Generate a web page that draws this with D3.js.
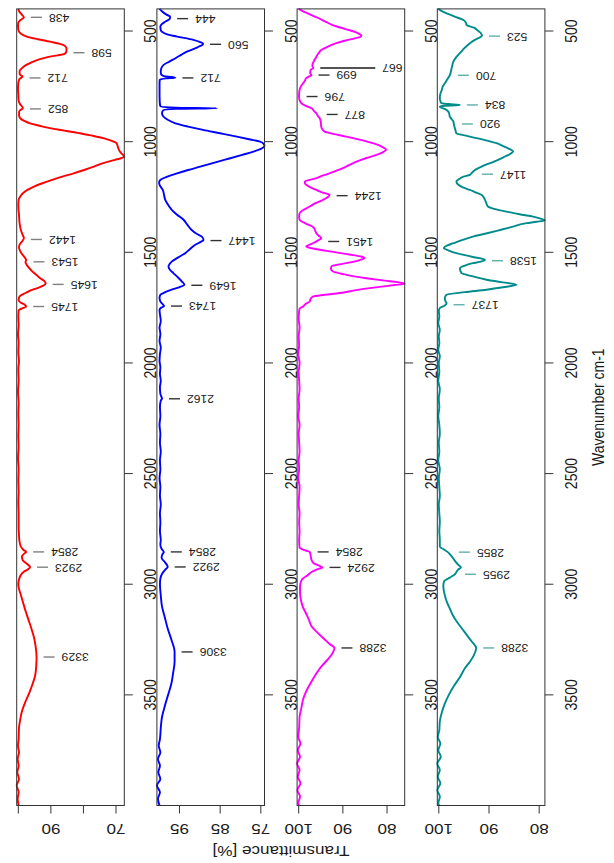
<!DOCTYPE html>
<html>
<head>
<meta charset="utf-8">
<script src="https://cdn.jsdelivr.net/npm/d3@7"></script>
<style>
  body { margin: 0; background: #fff; }
  text { font-family: "Liberation Sans", Arial, sans-serif; fill: #1a1a1a; }
</style>
</head>
<body>
<svg id="chart" width="614" height="863"></svg>
<script>
// FTIR spectra, four samples: [wavenumber cm-1, transmittance %]
const redSpectrum = [
  [400,100.0],[412,99.7],[425,99.0],[438,98.3],[450,99.3],[462,100.0],[480,100.1],[500,99.9],[512,99.2],[525,97.4],
  [537,94.0],[548,90.3],[558,87.2],[568,85.6],[580,85.2],[595,85.3],[603,85.8],[610,88.0],[618,91.0],[628,93.6],
  [640,95.8],[652,97.4],[664,98.6],[680,99.6],[695,99.6],[706,98.7],[716,99.6],[735,100.0],[760,100.1],[790,100.0],
  [815,99.9],[830,99.5],[848,98.6],[862,99.7],[880,99.8],[895,99.4],[906,98.2],[917,96.4],[928,93.5],[939,90.3],
  [950,85.8],[962,81.1],[973,77.3],[984,73.9],[995,71.5],[1007,69.8],[1020,69.5],[1037,69.1],[1052,68.4],[1063,67.6],
  [1068,67.45],[1075,68.5],[1082,70.3],[1097,73.9],[1113,76.8],[1128,79.8],[1143,83.0],[1158,86.5],[1173,89.6],[1188,92.6],
  [1203,95.2],[1218,97.2],[1233,98.6],[1250,99.5],[1263,99.9],[1290,100.0],[1330,99.8],[1370,99.6],[1400,99.2],[1420,98.7],
  [1436,98.3],[1450,98.8],[1465,99.6],[1478,99.8],[1492,99.5],[1505,99.0],[1520,98.2],[1535,97.6],[1545,97.8],[1555,97.5],
  [1570,96.7],[1585,95.8],[1600,94.6],[1617,93.3],[1630,92.0],[1641,91.6],[1652,92.5],[1662,94.2],[1672,96.2],[1684,97.8],
  [1695,99.3],[1705,99.8],[1718,99.9],[1728,99.2],[1737,98.0],[1745,97.6],[1752,98.6],[1762,99.9],[1790,100.0],[1830,99.9],
  [1870,100.1],[1910,99.9],[1950,100.0],[1990,99.8],[2030,100.0],[2080,99.9],[2130,100.1],[2180,99.9],[2230,100.0],[2280,99.9],
  [2330,100.0],[2380,99.9],[2430,100.1],[2480,99.9],[2530,100.0],[2580,99.9],[2630,100.0],[2680,99.9],[2730,99.9],[2780,99.8],
  [2810,99.6],[2830,99.2],[2845,98.4],[2854,97.6],[2862,98.2],[2875,98.9],[2890,98.7],[2905,97.6],[2915,96.8],[2923,96.4],
  [2932,97.0],[2945,98.4],[2960,99.3],[2980,99.8],[3000,100.0],[3020,99.8],[3050,99.2],[3080,98.6],[3120,97.8],[3160,96.9],
  [3200,96.0],[3240,95.2],[3280,94.7],[3329,94.4],[3370,94.5],[3410,94.8],[3450,95.6],[3490,96.6],[3530,97.8],[3570,98.8],
  [3610,99.4],[3650,99.8],[3700,99.9],[3730,100.1],[3760,99.8],[3790,100.2],[3820,99.9],[3850,100.3],[3880,99.8],[3910,100.5],
  [3940,99.9],[3970,100.2],[4000,99.9]
];

const blueSpectrum = [
  [400,99.9],[412,99.25],[425,98.3],[435,97.3],[445,97.4],[458,98.5],[470,99.4],[480,99.7],[495,99.6],[503,99.3],
  [515,98.0],[525,95.6],[540,91.6],[550,89.9],[557,89.2],[563,89.4],[571,90.3],[582,91.6],[593,93.2],[608,94.6],
  [623,96.0],[638,97.5],[653,98.9],[670,99.5],[684,99.6],[696,99.5],[704,98.8],[708,96.8],[711,96.0],[714,98.3],
  [720,99.85],[740,99.9],[780,99.9],[820,99.85],[840,99.7],[846,96.0],[849,85.8],[852,96.0],[858,99.0],[872,99.3],
  [885,99.0],[900,98.0],[917,96.0],[932,92.9],[947,89.2],[962,85.0],[977,80.9],[990,77.6],[1000,75.2],[1010,74.3],
  [1020,74.1],[1030,74.7],[1045,76.8],[1060,79.6],[1075,82.5],[1090,85.5],[1113,89.9],[1128,92.9],[1143,95.6],[1158,98.0],
  [1173,99.7],[1185,100.0],[1195,99.9],[1218,99.1],[1240,98.8],[1263,98.5],[1285,97.8],[1308,96.9],[1330,95.6],[1353,94.0],
  [1375,93.1],[1399,92.0],[1415,90.9],[1429,89.5],[1444,89.1],[1455,90.0],[1466,91.1],[1485,92.4],[1504,93.6],[1523,95.3],
  [1542,96.9],[1555,97.5],[1564,97.7],[1580,97.3],[1594,96.5],[1615,95.3],[1632,94.4],[1647,93.8],[1658,95.1],[1669,96.9],
  [1680,98.5],[1692,99.7],[1705,99.9],[1722,99.7],[1737,99.0],[1743,98.8],[1750,99.5],[1760,99.9],[1780,99.8],[1810,99.6],
  [1840,99.9],[1870,99.7],[1900,99.9],[1930,99.6],[1960,99.8],[1990,99.9],[2020,99.7],[2050,99.8],[2080,99.6],[2110,99.8],
  [2140,99.7],[2155,99.4],[2162,99.3],[2170,99.6],[2200,99.8],[2240,99.7],[2280,99.9],[2320,99.7],[2360,99.8],[2400,99.6],
  [2440,99.8],[2480,99.7],[2520,99.9],[2560,99.7],[2600,99.8],[2640,99.6],[2680,99.8],[2720,99.7],[2760,99.8],[2800,99.6],
  [2820,99.7],[2840,99.4],[2854,98.85],[2865,99.2],[2880,99.4],[2900,98.6],[2912,98.1],[2922,97.9],[2932,98.4],[2950,99.2],
  [2975,99.7],[3000,99.8],[3050,99.6],[3100,99.3],[3150,98.6],[3200,97.9],[3250,97.0],[3306,96.2],[3350,96.2],[3400,96.55],
  [3450,97.0],[3500,97.8],[3550,98.6],[3600,99.3],[3650,99.6],[3700,99.8],[3730,100.1],[3760,99.7],[3790,100.3],[3820,99.8],
  [3850,100.2],[3880,99.7],[3910,100.55],[3940,99.8],[3970,100.3],[4000,99.9]
];

const magentaSpectrum = [
  [400,100.0],[410,99.1],[420,98.0],[440,95.7],[460,93.7],[473,92.3],[490,89.6],[505,87.1],[512,86.4],[520,85.8],
  [527,86.1],[533,87.3],[544,89.6],[555,91.5],[570,93.4],[586,94.9],[600,95.5],[616,96.0],[630,96.4],[646,96.8],
  [657,96.9],[667,96.7],[676,97.3],[690,97.4],[699,97.1],[706,97.7],[713,98.3],[725,98.6],[736,99.0],[750,99.5],
  [766,99.8],[782,99.9],[797,99.93],[812,99.8],[826,99.4],[838,98.4],[849,97.1],[860,96.6],[872,96.0],[883,95.7],
  [894,95.25],[910,95.0],[932,94.9],[945,94.6],[955,94.1],[966,91.9],[977,89.2],[992,86.0],[1007,83.2],[1022,81.2],
  [1037,80.2],[1048,81.0],[1060,82.4],[1075,84.8],[1090,86.9],[1105,88.5],[1120,90.0],[1132,91.6],[1143,93.0],[1155,94.8],
  [1165,96.0],[1173,97.5],[1180,98.6],[1188,98.6],[1195,98.3],[1207,97.3],[1218,96.0],[1230,94.6],[1240,93.0],[1250,93.4],
  [1263,94.5],[1278,96.2],[1293,97.5],[1308,98.9],[1323,99.8],[1338,99.9],[1353,99.8],[1370,98.4],[1384,96.8],[1400,96.3],
  [1414,96.0],[1425,95.5],[1436,94.9],[1447,95.7],[1459,96.8],[1467,97.7],[1474,98.3],[1485,96.2],[1496,93.0],[1510,88.5],
  [1520,85.7],[1526,85.1],[1535,86.2],[1549,89.2],[1556,91.2],[1564,92.6],[1575,92.7],[1587,92.2],[1600,89.6],[1610,87.1],
  [1617,84.7],[1628,80.5],[1635,77.6],[1639,76.3],[1642,76.0],[1648,78.3],[1655,81.2],[1662,83.9],[1672,87.3],[1684,90.7],
  [1692,94.1],[1700,96.8],[1710,97.3],[1722,97.5],[1733,98.4],[1745,99.0],[1755,99.8],[1765,99.9],[1800,100.0],[1840,99.8],
  [1880,100.0],[1920,99.9],[1960,100.1],[2000,99.8],[2040,100.0],[2080,99.9],[2120,99.8],[2160,100.0],[2200,99.9],[2240,100.1],
  [2280,99.8],[2320,100.0],[2360,99.9],[2400,99.8],[2440,100.0],[2480,99.9],[2520,100.1],[2560,99.8],[2600,99.9],[2640,100.0],
  [2680,99.8],[2720,99.9],[2760,99.8],[2800,99.9],[2835,99.8],[2845,98.9],[2854,97.5],[2870,97.3],[2890,97.1],[2905,96.6],
  [2915,95.5],[2924,94.6],[2932,95.7],[2945,97.1],[2960,98.0],[2975,99.1],[2990,99.5],[3010,99.7],[3040,99.7],[3070,99.5],
  [3100,99.1],[3130,98.4],[3160,97.7],[3190,97.1],[3220,95.7],[3250,94.1],[3270,93.0],[3288,91.9],[3310,92.3],[3340,93.4],
  [3370,94.8],[3400,95.9],[3440,97.1],[3480,98.2],[3520,99.0],[3560,99.4],[3600,99.8],[3650,99.9],[3690,100.1],[3720,99.6],
  [3750,100.2],[3780,99.7],[3810,100.36],[3840,99.8],[3870,100.2],[3900,99.6],[3930,100.3],[3960,99.7],[3990,100.1],[4000,99.9]
];

const tealSpectrum = [
  [400,100.1],[410,99.4],[420,98.45],[430,97.3],[440,96.2],[450,95.1],[462,94.6],[473,94.46],[485,93.0],[497,92.3],
  [510,91.6],[520,91.4],[527,91.7],[540,92.8],[555,93.8],[575,94.8],[600,95.8],[620,96.6],[638,97.1],[655,97.3],
  [668,97.45],[684,97.6],[699,97.8],[715,98.2],[736,98.8],[750,99.2],[766,99.4],[785,99.7],[804,99.8],[815,99.7],
  [826,99.5],[830,98.0],[834,95.8],[838,98.8],[842,99.8],[852,98.8],[864,98.1],[876,97.9],[887,97.8],[900,97.4],
  [909,97.1],[920,97.0],[939,96.8],[955,96.6],[962,96.5],[973,94.6],[984,92.5],[995,90.4],[1007,88.5],[1020,87.2],
  [1030,86.2],[1045,85.2],[1056,85.8],[1067,86.8],[1082,88.2],[1097,89.8],[1112,91.4],[1128,92.8],[1143,93.5],[1150,93.8],
  [1158,95.1],[1170,96.0],[1180,96.5],[1195,96.1],[1207,95.2],[1218,93.8],[1230,92.6],[1240,91.5],[1263,90.8],[1280,90.5],
  [1293,90.2],[1305,88.8],[1316,86.5],[1328,83.9],[1339,81.2],[1348,79.7],[1355,78.86],[1362,80.5],[1368,82.5],[1385,85.4],
  [1399,87.8],[1415,90.6],[1429,93.2],[1445,95.4],[1459,97.1],[1470,98.4],[1481,99.0],[1492,98.0],[1504,96.5],[1520,93.4],
  [1534,90.8],[1542,91.6],[1549,93.2],[1560,94.8],[1572,95.8],[1594,95.5],[1610,93.0],[1624,90.5],[1636,87.2],[1647,84.5],
  [1658,87.2],[1669,90.5],[1680,94.8],[1692,98.5],[1707,98.8],[1720,98.7],[1730,98.45],[1740,98.8],[1752,99.8],[1765,100.0],
  [1790,99.9],[1820,100.1],[1850,99.8],[1880,100.0],[1910,99.9],[1940,100.1],[1970,99.8],[2000,100.0],[2040,99.9],[2080,100.1],
  [2120,99.8],[2160,100.0],[2200,99.9],[2240,100.1],[2280,99.9],[2320,99.8],[2360,100.0],[2400,99.9],[2440,100.1],[2480,99.8],
  [2520,100.0],[2560,99.9],[2600,99.8],[2640,100.0],[2680,99.9],[2720,99.8],[2760,99.9],[2800,99.8],[2830,99.8],[2845,98.8],
  [2855,98.2],[2875,97.4],[2900,96.6],[2915,96.0],[2924,95.6],[2935,96.2],[2955,96.8],[2970,97.8],[2987,98.95],[3010,99.1],
  [3050,98.8],[3080,98.4],[3110,97.8],[3140,97.2],[3170,96.4],[3200,95.4],[3230,94.4],[3260,93.4],[3288,92.55],[3320,93.0],
  [3350,93.8],[3380,94.8],[3420,95.8],[3460,97.0],[3500,98.0],[3540,98.8],[3580,99.4],[3620,99.8],[3660,99.9],[3690,100.2],
  [3720,99.7],[3750,100.1],[3780,99.6],[3810,100.3],[3840,99.8],[3870,100.2],[3900,99.7],[3930,100.3],[3960,99.8],[3990,100.1],
  [4000,99.9]
];

// Annotated band positions (cm-1)
const redPeaks = [438, 598, 712, 852, 1442, 1543, 1645, 1745, 2854, 2923, 3329];
const bluePeaks = [444, 560, 712, 1447, 1649, 1743, 2162, 2854, 2922, 3306];
const magentaPeaks = [667, 699, 796, 877, 1244, 1451, 2854, 2924, 3288];
const tealPeaks = [523, 700, 834, 920, 1147, 1538, 1737, 2855, 2955, 3288];

// Axis ticks
const wavenumberTicks = [500, 1000, 1500, 2000, 2500, 3000, 3500];
const redTransTicks = [100, 90, 80, 70];
const redTransLabels = ["", "90", "", "70"];
const blueTransTicks = [95, 85, 75];
const blueTransLabels = ["95", "85", "75"];
const magentaTransTicks = [100, 90, 80];
const magentaTransLabels = ["100", "90", "80"];
const tealTransTicks = [100, 90, 80];
const tealTransLabels = ["100", "90", "80"];

// ---- layout ----
const svg = d3.select("#chart");
const SX = 1.22;                 // horizontal text stretch
const panelLeft0 = 16.7, panelStep = 140.2, panelW = 107.6;
const plotTop = 8.9, plotBottom = 805.5;

const y = d3.scaleLinear().domain([400, 4000]).range([plotTop, plotBottom]);

const panels = [
  { data: redSpectrum, peaks: redPeaks, ticks: redTransTicks, labels: redTransLabels, color: "#ff0000", leader: "#808080" },
  { data: blueSpectrum, peaks: bluePeaks, ticks: blueTransTicks, labels: blueTransLabels, color: "#0000ff", leader: "#333333" },
  { data: magentaSpectrum, peaks: magentaPeaks, ticks: magentaTransTicks, labels: magentaTransLabels, color: "#ff00ff", leader: "#333333" },
  { data: tealSpectrum, peaks: tealPeaks, ticks: tealTransTicks, labels: tealTransLabels, color: "#008b8b", leader: "#5fb0ab" }
];

function place(x, yy, angle) {
  return `translate(${x},${yy}) scale(${SX},1) rotate(${angle})`;
}

function interp(data, w) {
  const i = d3.bisector(d => d[0]).left(data, w);
  if (i <= 0) return data[0][1];
  if (i >= data.length) return data[data.length - 1][1];
  const a = data[i - 1], b = data[i];
  return a[1] + (b[1] - a[1]) * (w - a[0]) / (b[0] - a[0]);
}

panels.forEach((p, i) => {
  const left = panelLeft0 + i * panelStep, right = left + panelW;
  const ext = d3.extent(p.data, d => d[1]);
  const x = d3.scaleLinear().domain([ext[1], ext[0]]).range([left, right]);
  const g = svg.append("g");

  // spectrum
  const line = d3.line().x(d => x(d[1])).y(d => y(d[0])).curve(d3.curveMonotoneY);
  g.append("path").datum(p.data)
    .attr("d", line).attr("fill", "none")
    .attr("stroke", p.color).attr("stroke-width", 1.9).attr("stroke-linejoin", "round");

  // frame
  g.append("rect").attr("x", left).attr("y", plotTop).attr("width", panelW).attr("height", plotBottom - plotTop)
    .attr("fill", "none").attr("stroke", "#333").attr("stroke-width", 1);

  // wavenumber axis (right side of each panel)
  wavenumberTicks.forEach(w => {
    g.append("line").attr("x1", right).attr("x2", right + 8.5).attr("y1", y(w)).attr("y2", y(w))
      .attr("stroke", "#333");
    g.append("text").attr("transform", place(right + 26, y(w), -90))
      .attr("text-anchor", "middle").attr("dominant-baseline", "central")
      .style("font-size", "14px").text(w);
  });

  // transmittance axis (bottom)
  p.ticks.forEach((t, k) => {
    g.append("line").attr("x1", x(t)).attr("x2", x(t)).attr("y1", plotBottom).attr("y2", plotBottom + 8)
      .attr("stroke", "#333");
    if (p.labels[k]) {
      g.append("text").attr("transform", place(x(t), 829, 180))
        .attr("text-anchor", "middle").attr("dominant-baseline", "central")
        .style("font-size", "14px").text(p.labels[k]);
    }
  });

  // band annotations
  const peaks = p.peaks.slice().sort((a, b) => a - b);
  peaks.forEach((w, k) => {
    let tMin = interp(p.data, w);
    p.data.forEach(d => { if (Math.abs(d[0] - w) <= 20 && d[1] < tMin) tMin = d[1]; });
    const start = x(tMin) + 7;
    let len = 11;
    const next = peaks[k + 1];
    if (next !== undefined && Math.abs(y(next) - y(w)) < 10) len += 44;   // clear the neighbouring label
    const end = start + len;
    g.append("line").attr("x1", start).attr("x2", end).attr("y1", y(w)).attr("y2", y(w))
      .attr("stroke", len > 11 ? "#1a1a1a" : p.leader).attr("stroke-width", 1.4);
    g.append("text").attr("transform", place(end + 7, y(w), 180))
      .attr("text-anchor", "end").attr("dominant-baseline", "central")
      .style("font-size", "10px").text(w);
  });
});

// axis titles
svg.append("text").attr("transform", place(281, 851, 180))
  .attr("text-anchor", "middle").attr("dominant-baseline", "central")
  .style("font-size", "14px").text("Transmittance [%]");
svg.append("text").attr("transform", place(598, (plotTop + plotBottom) / 2, -90))
  .attr("text-anchor", "middle").attr("dominant-baseline", "central")
  .style("font-size", "14px").text("Wavenumber cm-1");
</script>
</body>
</html>
